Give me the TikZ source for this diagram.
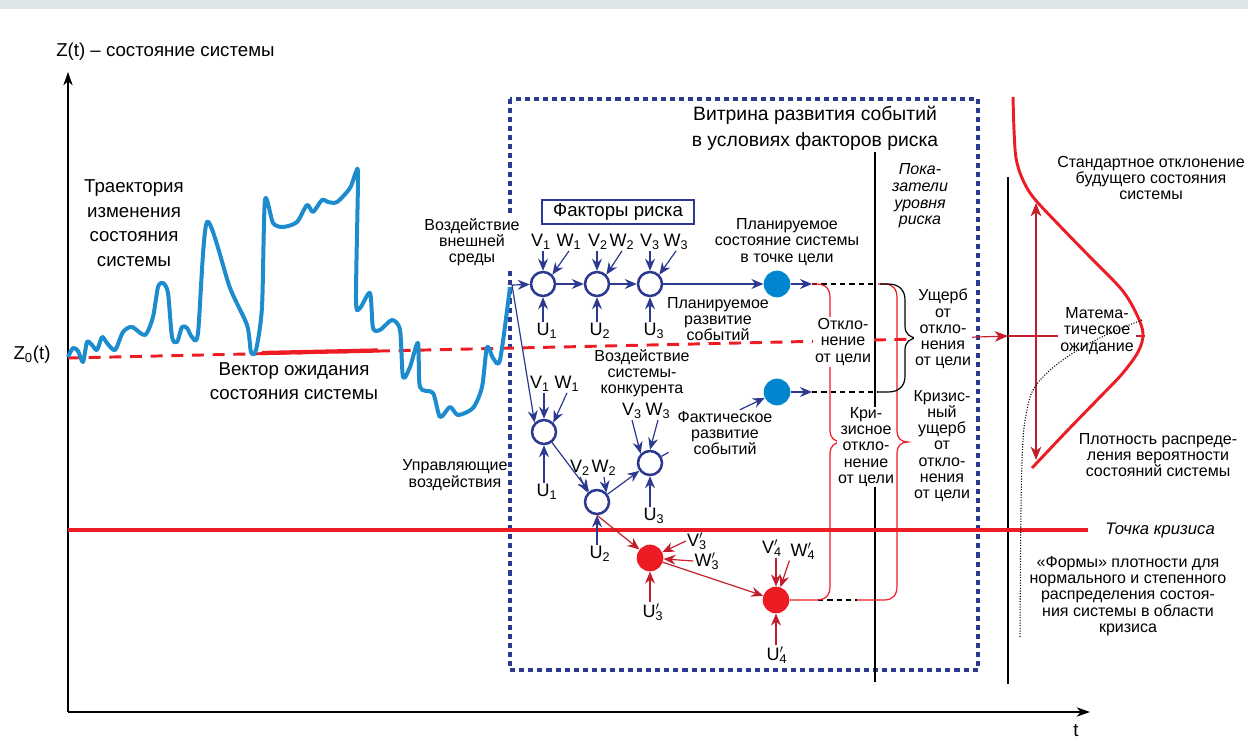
\documentclass[tikz,border=0pt]{standalone}
\usepackage{fontspec}
\setmainfont{Liberation Sans}
\usepackage{tikz}
\usetikzlibrary{arrows.meta}

\definecolor{navyc}{RGB}{43,57,144}
\definecolor{redc}{RGB}{237,28,36}
\definecolor{dredc}{RGB}{196,30,45}
\definecolor{trajc}{RGB}{28,140,206}
\definecolor{ballc}{RGB}{0,133,207}
\definecolor{bandc}{RGB}{223,230,233}

\begin{document}
\begin{tikzpicture}[x=0.75pt,y=0.75pt,yscale=-1,xscale=1,
  bigtxt/.style={font=\fontsize{14}{18.4}\selectfont,align=center,inner sep=0.75pt},
  midtxt/.style={font=\fontsize{12}{12.2}\selectfont,align=center,inner sep=0.75pt},
  idx/.style={font=\fontsize{13.5}{14}\selectfont,inner sep=0.75pt},
  opn/.style={circle,draw=navyc,line width=1.9pt,minimum size=18pt,inner sep=0pt},
  blu/.style={circle,fill=ballc,minimum size=20pt,inner sep=0pt},
  crs/.style={circle,fill=redc,minimum size=20pt,inner sep=0pt},
  arr/.style={navyc,line width=0.9pt,-{Stealth[length=9pt,width=7.5pt,inset=3pt]}},
  rarr/.style={dredc,line width=0.9pt,-{Stealth[length=9pt,width=7.5pt,inset=3pt]}},
  axis/.style={line width=1.1pt,-{Stealth[length=10pt,width=7pt,inset=3pt]}},
  brc/.style={redc,line width=0.9pt},
  blk/.style={line width=0.9pt,dash pattern=on 4pt off 3pt}
]
\useasboundingbox (0,0) rectangle (1248,741);

% Band
\fill[bandc] (0,0) rectangle (1248,9);

% Window frame
\draw[navyc,line width=2.6pt,dash pattern=on 3.8pt off 3pt] (510,99) rectangle (978,670);

% Axes
\coordinate (o) at (68,712);
\coordinate (ytop) at (68,72);
\coordinate (xend) at (1090,712);
\draw[axis] (o) -- (ytop);
\draw[axis] (o) -- (xend);

% Risk level line
\coordinate (k1) at (875,152);
\coordinate (k2) at (875,682);
\draw[line width=1.5pt] (k1) -- (k2);
% Density base line
\coordinate (m1) at (1008,177);
\coordinate (m2) at (1008,684);
\draw[line width=1.5pt] (m1) -- (m2);

% Crisis line
\coordinate (kr0) at (68,530);
\coordinate (kr1) at (1088,530);
\draw[redc,line width=3pt] (kr0) -- (kr1);

% Expectation vector
\coordinate (e0) at (68,358);
\coordinate (e1) at (918,339);
\draw[redc,line width=2.2pt,dash pattern=on 9pt off 6.5pt] (e0) -- (e1);
\coordinate (ev0) at (262,353);
\coordinate (ev1) at (378,350.5);
\draw[redc,line width=3.2pt] (ev0) -- (ev1);
\coordinate (e2) at (1008,336);
\draw[dredc,line width=0.9pt,-{Stealth[length=10pt,width=8pt,inset=3pt]}] (e1) -- (e2);

% Trajectory
\draw[trajc,line width=3pt,line join=round] plot[smooth,tension=0.45] coordinates {
 (68,357) (73,348) (78,351) (83,362) (87,342) (92,345) (97,350) (102,337) (107,343)
 (115,350) (123,332) (132,327) (145,335) (153,317) (158,287) (163,283) (168,293)
 (172,337) (177,342) (182,327) (187,328) (192,337) (198,333) (207,222) (230,288)
 (247,325) (251,352) (256,350) (262,307) (265,200) (273,223) (283,227) (297,222)
 (307,205) (313,212) (322,200) (328,202) (337,202) (350,188) (356,172) (358,178)
 (356,300) (360,308) (370,293) (373,328) (380,330) (392,320) (400,330) (403,377)
 (410,367) (418,343) (420,387) (433,393) (440,417) (450,407) (458,415) (473,408)
 (482,387) (487,347) (493,358) (500,360) (510,287)};

% Input point
\coordinate (vh) at (512,285);

% Nodes: planned path
\node[opn] (c1) at (543,284) {};
\node[opn] (c2) at (597,284) {};
\node[opn] (c3) at (650,284) {};
\node[blu] (pl) at (777,284) {};
\node[blu] (fa) at (777,392) {};
% Nodes: actual path
\node[opn] (d1) at (544,432) {};
\node[opn] (d2) at (597,502) {};
\node[opn] (d3) at (650,463) {};
% Nodes: crisis
\node[crs] (r1) at (650,558) {};
\node[crs] (r2) at (776,600) {};

% Factor labels
\node[idx] (v1) at (541,242) {V\textsubscript{1}};
\node[idx] (w1) at (569,242) {W\textsubscript{1}};
\node[idx] (v2) at (598,242) {V\textsubscript{2}};
\node[idx] (w2) at (622,242) {W\textsubscript{2}};
\node[idx] (v3) at (650,242) {V\textsubscript{3}};
\node[idx] (w3) at (676,242) {W\textsubscript{3}};
\node[idx] (u1) at (547,331) {U\textsubscript{1}};
\node[idx] (u2) at (600,331) {U\textsubscript{2}};
\node[idx] (u3) at (654,331) {U\textsubscript{3}};
\node[idx] (vb1) at (540,384) {V\textsubscript{1}};
\node[idx] (wb1) at (567,384) {W\textsubscript{1}};
\node[idx] (ub1) at (547,492) {U\textsubscript{1}};
\node[idx] (vb2) at (580,468) {V\textsubscript{2}};
\node[idx] (wb2) at (604,468) {W\textsubscript{2}};
\node[idx] (ub2) at (600,554) {U\textsubscript{2}};
\node[idx] (vb3) at (632,411) {V\textsubscript{3}};
\node[idx] (wb3) at (658,411) {W\textsubscript{3}};
\node[idx] (ub3) at (654,516) {U\textsubscript{3}};
\node[idx] (vr3) at (697,541) {V\rlap{\textsuperscript{$\prime$}}\textsubscript{3}};
\node[idx] (wr3) at (707,561) {W\rlap{\textsuperscript{$\prime$}}\textsubscript{3}};
\node[idx] (ur3) at (653,612) {U\rlap{\textsuperscript{$\prime$}}\textsubscript{3}};
\node[idx] (vr4) at (772,548) {V\rlap{\textsuperscript{$\prime$}}\textsubscript{4}};
\node[idx] (wr4) at (803,551) {W\rlap{\textsuperscript{$\prime$}}\textsubscript{4}};
\node[idx] (ur4) at (777,655) {U\rlap{\textsuperscript{$\prime$}}\textsubscript{4}};

% Connections: planned path
\draw[arr] (vh) -- (c1);
\draw[arr] (c1) -- (c2);
\draw[arr] (c2) -- (c3);
\draw[arr] (c3) -- (pl);
\coordinate (pt) at (812,284);
\draw[arr] (pl) -- (pt);
\draw[arr] (v1.south -| c1) -- (c1);
\draw[arr] (w1.south) -- (c1.north east);
\draw[arr] (v2.south -| c2) -- (c2);
\draw[arr] (w2.south) -- (c2.north east);
\draw[arr] (v3.south -| c3) -- (c3);
\draw[arr] (w3.south) -- (c3.north east);
\draw[arr] (u1.north -| c1) -- (c1);
\draw[arr] (u2.north -| c2) -- (c2);
\draw[arr] (u3.north -| c3) -- (c3);

% Connections: actual path
\draw[arr] (vh) -- (d1.north west);
\draw[arr] (d1) -- (d2);
\draw[arr] (d2) -- (d3);
\draw[arr] (vb1.south -| d1) -- (d1);
\draw[arr] (wb1.south) -- (d1.north east);
\draw[arr] (ub1.north -| d1) -- (d1);
\draw[arr] (vb2.south) -- (d2.north west);
\draw[arr] (wb2.south) -- (d2.north east);
\draw[arr] (ub2.north -| d2) -- (d2);
\draw[arr] (vb3.south) -- (d3.north west);
\draw[arr] (wb3.south) -- (d3.north);
\draw[arr] (ub3.north -| d3) -- (d3);
\draw[navyc,line width=0.9pt] (d3.30) -- ++(7,-4);
\coordinate (at) at (812,392);
\draw[arr] (fa) -- (at);

% Connections: crisis path
\draw[rarr] (d2.south) -- (r1);
\draw[rarr] (r1) -- (r2);
\draw[rarr] (vr3.west) -- (r1);
\draw[rarr] (wr3.west) -- (r1);
\draw[rarr] (ur3.north -| r1) -- (r1);
\draw[rarr] (vr4.south -| r2) -- (r2);
\draw[rarr] (wr4.south west) -- (r2);
\draw[rarr] (ur4.north -| r2) -- (r2);

% Dashed continuations
\draw[blk] (pt) -- (876,284);
\draw[blk] (at) -- (878,392);
\draw[blk] (818,600) -- (857,600);

% Braces
\draw[brc] (pt) -- (816,284) .. controls (826,284) and (830,289) .. (830,298) -- (830,431)
  .. controls (830,438) and (835,442) .. (842,442) .. controls (835,442) and (830,446) .. (830,453)
  -- (830,586) .. controls (830,595) and (826,600) .. (816,600) -- (r2.east);
\draw[brc] (878,284) -- (884,284) .. controls (893,284) and (897,289) .. (897,298) -- (897,431)
  .. controls (897,438) and (901,442) .. (908,442) .. controls (901,442) and (897,446) .. (897,453)
  -- (897,586) .. controls (897,595) and (893,600) .. (884,600) -- (857,600);
\draw[line width=0.9pt] (880,284) -- (888,284) .. controls (899,284) and (905,290) .. (905,300) -- (905,326)
  .. controls (905,334) and (910,338) .. (918,338) .. controls (910,338) and (905,342) .. (905,350)
  -- (905,376) .. controls (905,386) and (899,392) .. (888,392) -- (878,392);

% Density of the future state
\coordinate (h0) at (1008,336);
\coordinate (h1) at (1145,336);
\draw[dredc,line width=0.9pt] (h0) -- (h1);
\coordinate (s0) at (1036,203);
\coordinate (s1) at (1036,460);
\draw[dredc,line width=0.9pt,{Stealth[length=10pt,width=8pt,inset=3pt]}-{Stealth[length=10pt,width=8pt,inset=3pt]}] (s0) -- (s1);

% Text Node
\node[bigtxt,anchor=west] (zl) at (55,52) {Z(t) – состояние системы};
% Text Node
\node[bigtxt] (tl) at (1076,731) {t};
% Text Node
\node[bigtxt] (z0) at (32,355) {Z\textsubscript{0}(t)};
% Text Node
\node[bigtxt] (trj) at (134,223) {Траектория\\изменения\\состояния\\системы};
% Text Node
\node[bigtxt,font=\fontsize{14}{18}\selectfont] (vec) at (294,381) {Вектор ожидания\\состояния системы};
% Text Node
\node[midtxt,fill=white,inner sep=2pt] (ext) at (472,242) {Воздействие\\внешней\\среды};
% Text Node
\node[draw=navyc,line width=1.3pt,bigtxt,minimum width=114pt,minimum height=18.5pt] (fr) at (618,212) {Факторы риска};
% Text Node
\node[bigtxt,font=\fontsize{14.5}{19.5}\selectfont] (vit) at (815,128) {Витрина развития событий\\в условиях факторов риска};
% Text Node
\node[midtxt,font=\itshape\fontsize{12}{12.5}\selectfont] (pok) at (920,196) {Пока-\\затели\\уровня\\риска};
% Text Node
\node[midtxt] (plt) at (787,242) {Планируемое\\состояние системы\\в точке цели};
% Text Node
\node[midtxt] (plr) at (718,319) {Планируемое\\развитие\\событий};
% Text Node
\node[midtxt] (kon) at (642,373) {Воздействие\\системы-\\конкурента};
% Text Node
\node[midtxt] (fl) at (725,433) {Фактическое\\развитие\\событий};
\draw[arr] ([xshift=11pt]fl.north) -- (fa);
% Text Node
\node[midtxt] (upr) at (455,475) {Управляющие\\воздействия};
% Text Node
\node[midtxt,fill=white,inner sep=1.5pt] (otk) at (843,342) {Откло-\\нение\\от цели};
% Text Node
\node[midtxt,fill=white,inner sep=1pt] (ush) at (943,329) {Ущерб\\от\\откло-\\нения\\от цели};
% Text Node
\node[midtxt,fill=white,inner sep=0.5pt] (kot) at (866,447) {Кри-\\зисное\\откло-\\нение\\от цели};
% Text Node
\node[midtxt] (kus) at (942,446) {Кризис-\\ный\\ущерб\\от\\откло-\\нения\\от цели};
% Text Node
\node[midtxt] (std) at (1151,178) {Стандартное отклонение\\будущего состояния\\системы};
% Text Node
\node[midtxt,fill=white,inner sep=2pt] (mat) at (1097,331) {Матема-\\тическое\\ожидание};
% Text Node
\node[midtxt] (plo) at (1158,455) {Плотность распреде-\\ления вероятности\\состояний системы};
% Text Node
\node[midtxt,font=\itshape\fontsize{12.5}{13}\selectfont,anchor=west] (tkr) at (1104,530) {Точка кризиса};
% Text Node
\node[midtxt] (frm) at (1128,596) {«Формы» плотности для\\нормального и степенного\\распределения состоя-\\ния системы в области\\кризиса};

% Density curves
\draw[redc,line width=2.2pt] plot[smooth,tension=0.55] coordinates {
 (1013,97) (1014,130) (1016,158) (1022,178) (1033,197) (1057,223) (1090,257)
 (1122,290) (1137,315) (1143,334) (1138,352) (1122,374) (1100,397) (1066,432) (1032,468)};
\draw[line width=0.8pt,dash pattern=on 0.8pt off 1.2pt] plot[smooth,tension=0.6] coordinates {
 (1142,320) (1117,330) (1090,343) (1067,357) (1047,373) (1033,390) (1027,410)
 (1023,440) (1021,507) (1020,637)};

\end{tikzpicture}
\end{document}
